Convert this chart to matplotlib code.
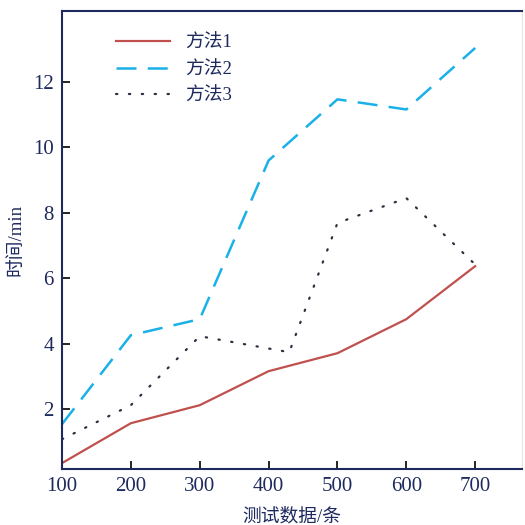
import matplotlib
matplotlib.use("Agg")
import matplotlib.pyplot as plt

x1 = [100, 200, 300, 400, 500, 600, 700]
m1 = [0.35, 1.57, 2.12, 3.16, 3.71, 4.75, 6.37]
x2 = [100, 200, 300, 400, 500, 600, 700]
m2 = [1.54, 4.26, 4.75, 9.6, 11.47, 11.16, 13.04]
x3 = [100, 200, 300, 430, 500, 600, 700]
m3 = [1.08, 2.12, 4.23, 3.74, 7.69, 8.45, 6.42]
labels = ["方法1", "方法2", "方法3"]
xticks = [100, 200, 300, 400, 500, 600, 700]
yticks = [2, 4, 6, 8, 10, 12]

plt.rcParams['font.family'] = ['Liberation Serif', 'Noto Sans CJK SC']
navy = '#1e2a5e'

fig = plt.figure(figsize=(5.25, 5.25), dpi=100)
ax = fig.add_axes([62/525, 56/525, 460/525, 458/525])

ax.plot(x1, m1, color='#c0504d', lw=1.6, label=labels[0])
ax.plot(x2, m2, color='#1ab0e8', lw=1.8, dashes=(8, 4.5), label=labels[1])
ax.plot(x3, m3, color='#2e2e40', lw=1.6, linestyle=(0, (0.6, 5.2)),
        dash_capstyle='round', label=labels[2])

ax.set_xlim(100, 768)
ax.set_ylim(0.17, 14.17)
ax.set_xticks(xticks)
ax.set_yticks(yticks)
ax.tick_params(direction='in', length=6, width=1.2, color='black',
               labelsize=15, labelcolor=navy, pad=6)

for s in ['left', 'bottom', 'top']:
    ax.spines[s].set_color(navy)
    ax.spines[s].set_linewidth(1.5)
ax.spines['right'].set_color('#e6e6e6')
ax.spines['right'].set_linewidth(0.8)

ax.set_xlabel('测试数据/条', fontsize=13.5, color=navy, labelpad=8)
ax.set_ylabel('时间/min', fontsize=13.5, color=navy, labelpad=6)

leg = ax.legend(loc='upper left', bbox_to_anchor=(0.08, 0.985), frameon=False,
                fontsize=13.5, handlelength=2.9, handletextpad=0.8, labelspacing=0.5)
for t in leg.get_texts():
    t.set_color(navy)

fig.savefig('out.png', dpi=100)
